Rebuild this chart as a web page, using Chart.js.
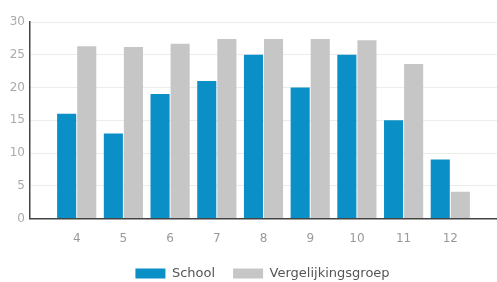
<!DOCTYPE html>
<html>
<head>
<meta charset="utf-8">
<script src="https://cdn.jsdelivr.net/npm/chart.js@4"></script>
<style>
  html, body { margin: 0; padding: 0; background: #fff; }
  #wrap { width: 497px; height: 282px; }
</style>
</head>
<body>
<div id="wrap"><canvas id="chart"></canvas></div>
<script>
const grades = [4, 5, 6, 7, 8, 9, 10, 11, 12];
const school = [16, 13, 19, 21, 25, 20, 25, 15, 9];
const vergelijking = [26.3, 26.2, 26.7, 27.4, 27.4, 27.4, 27.2, 23.6, 4.1];
const yTicks = [0, 5, 10, 15, 20, 25, 30];

function points(values) {
  return grades.map((g, i) => ({ x: g, y: values[i] }));
}

// legend sits a bit right of centre and a touch lower in the original
const nudgeLegend = {
  id: 'nudgeLegend',
  afterLayout(chart) {
    const lg = chart.legend;
    lg.left += 14; lg.right += 14;
    lg.top += 2; lg.bottom += 2;
  }
};

const ctx = document.getElementById('chart');
new Chart(ctx, {
  type: 'bar',
  data: {
    datasets: [{
      label: 'School',
      data: points(school),
      backgroundColor: '#0a8fc6',
      barPercentage: 0.95,
      categoryPercentage: 0.86
    }, {
      label: 'Vergelijkingsgroep',
      data: points(vergelijking),
      backgroundColor: '#c6c6c6',
      barPercentage: 0.95,
      categoryPercentage: 0.86
    }]
  },
  plugins: [nudgeLegend],
  options: {
    responsive: true,
    maintainAspectRatio: false,
    animation: false,
    layout: { padding: { top: 22, right: 0, left: 0, bottom: -6 } },
    plugins: {
      tooltip: { enabled: false },
      legend: {
        position: 'bottom',
        labels: {
          boxWidth: 30,
          boxHeight: 10,
          padding: 18,
          color: '#555',
          font: { family: 'DejaVu Sans', size: 13 }
        }
      }
    },
    scales: {
      x: {
        type: 'linear',
        min: 3,
        max: 13,
        offset: false,
        grid: { display: false, drawTicks: false },
        border: { color: '#444', width: 1.5 },
        afterFit: s => { s.paddingLeft = 0; s.paddingRight = 0; s.height -= 12; },
        ticks: {
          stepSize: 1,
          padding: 13,
          color: '#999',
          font: { family: 'DejaVu Sans', size: 12 },
          callback: v => grades.includes(v) ? String(v) : ''
        }
      },
      y: {
        min: 0,
        max: 30,
        grid: { color: '#ececec', drawTicks: false },
        border: { color: '#444', width: 1.5 },
        afterBuildTicks: s => { s.ticks = yTicks.map(v => ({ value: v })); },
        afterFit: s => { s.width = 30; },
        ticks: {
          padding: 5,
          color: '#aaa',
          font: { family: 'DejaVu Sans', size: 12 }
        }
      }
    }
  }
});
</script>
</body>
</html>
